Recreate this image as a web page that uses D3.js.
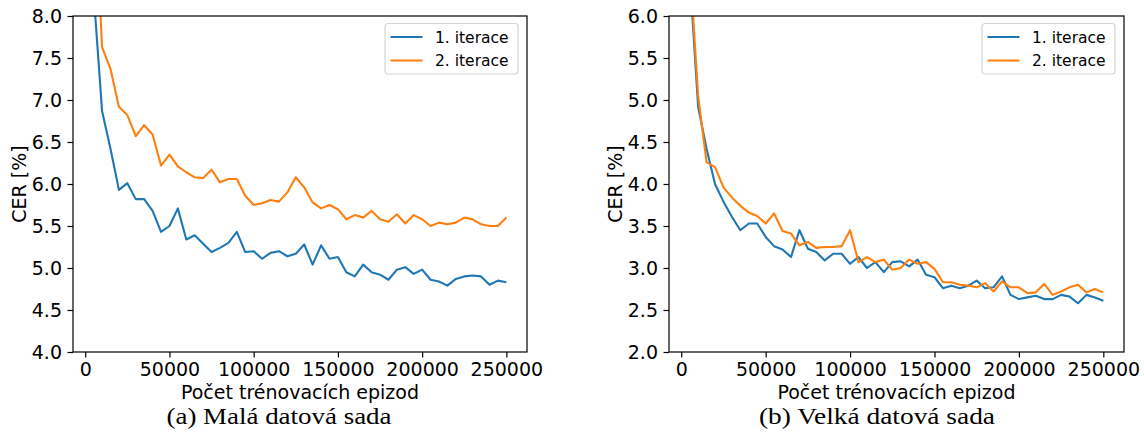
<!DOCTYPE html>
<html>
<head>
<meta charset="utf-8">
<script src="https://cdnjs.cloudflare.com/ajax/libs/d3/7.8.5/d3.min.js"></script>
<style>
  body { margin: 0; background: #fff; }
  svg { display: block; }
  .tick text { font-family: "DejaVu Sans", sans-serif; font-size: 19px; fill: #000; }
  .tick line { stroke: #000; stroke-width: 1.2; }
</style>
</head>
<body>
<svg id="chart" width="1144" height="441"></svg>
<script>
// episodes (x values), shared by both panels
const episodes = [5000, 10000, 15000, 20000, 25000, 30000, 35000, 40000, 45000, 50000,
  55000, 60000, 65000, 70000, 75000, 80000, 85000, 90000, 95000, 100000,
  105000, 110000, 115000, 120000, 125000, 130000, 135000, 140000, 145000, 150000,
  155000, 160000, 165000, 170000, 175000, 180000, 185000, 190000, 195000, 200000,
  205000, 210000, 215000, 220000, 225000, 230000, 235000, 240000, 245000, 250000];

// (a) small dataset
const smallIter1 = [8.27, 6.87, 6.42, 5.93, 6.01, 5.82, 5.82, 5.68, 5.43, 5.50,
  5.71, 5.34, 5.39, 5.29, 5.19, 5.24, 5.30, 5.43, 5.19, 5.20,
  5.11, 5.18, 5.20, 5.14, 5.17, 5.28, 5.04, 5.27, 5.11, 5.13,
  4.95, 4.90, 5.04, 4.95, 4.92, 4.86, 4.98, 5.01, 4.93, 4.98,
  4.86, 4.84, 4.79, 4.87, 4.90, 4.91, 4.90, 4.80, 4.85, 4.83];
const smallIter2 = [9.80, 7.63, 7.37, 6.92, 6.82, 6.57, 6.70, 6.59, 6.22, 6.35,
  6.21, 6.14, 6.08, 6.07, 6.17, 6.02, 6.06, 6.06, 5.86, 5.75,
  5.77, 5.81, 5.79, 5.90, 6.08, 5.96, 5.78, 5.71, 5.75, 5.70,
  5.58, 5.63, 5.60, 5.68, 5.58, 5.55, 5.64, 5.53, 5.63, 5.58,
  5.50, 5.54, 5.52, 5.54, 5.60, 5.58, 5.52, 5.50, 5.50, 5.60];

// (b) big dataset
const bigIter1 = [6.50, 4.92, 4.42, 4.00, 3.79, 3.61, 3.45, 3.53, 3.53, 3.37,
  3.26, 3.22, 3.13, 3.45, 3.23, 3.19, 3.09, 3.17, 3.17, 3.05,
  3.13, 3.00, 3.07, 2.95, 3.07, 3.08, 3.02, 3.10, 2.92, 2.89,
  2.76, 2.79, 2.76, 2.79, 2.85, 2.76, 2.77, 2.90, 2.68, 2.63,
  2.65, 2.67, 2.63, 2.63, 2.68, 2.66, 2.58, 2.68, 2.65, 2.61];
const bigIter2 = [6.65, 5.05, 4.26, 4.20, 3.96, 3.84, 3.74, 3.66, 3.62, 3.53,
  3.65, 3.44, 3.41, 3.27, 3.31, 3.24, 3.25, 3.25, 3.26, 3.45,
  3.07, 3.13, 3.07, 3.10, 2.98, 3.00, 3.10, 3.05, 3.07, 2.99,
  2.83, 2.83, 2.80, 2.79, 2.77, 2.82, 2.72, 2.84, 2.77, 2.77,
  2.70, 2.71, 2.81, 2.68, 2.72, 2.77, 2.80, 2.71, 2.75, 2.71];

const seriesNames = ["1. iterace", "2. iterace"];
const seriesColors = ["#1f77b4", "#ff7f0e"];
const xTicks = [0, 50000, 100000, 150000, 200000, 250000];
const smallYTicks = [4.0, 4.5, 5.0, 5.5, 6.0, 6.5, 7.0, 7.5, 8.0];
const bigYTicks = [2.0, 2.5, 3.0, 3.5, 4.0, 4.5, 5.0, 5.5, 6.0];
const xLabel = "Počet trénovacích epizod";
const yLabel = "CER [%]";

const svg = d3.select("#chart");

function drawPanel(p) {
  const top = 16, bottom = 352;
  const g = svg.append("g");

  // matplotlib-like 5% margin around 5000..250000
  const x = d3.scaleLinear().domain([-7250, 262250]).range([p.left, p.right]);
  const y = d3.scaleLinear().domain(p.yDomain).range([bottom, top]);

  g.append("g")
    .attr("transform", `translate(0,${bottom})`)
    .call(d3.axisBottom(x).tickValues(xTicks).tickFormat(d3.format("d"))
      .tickSize(5.5).tickPadding(5.5).tickSizeOuter(0))
    .call(a => a.select(".domain").remove());
  g.append("g")
    .attr("transform", `translate(${p.left},0)`)
    .call(d3.axisLeft(y).tickValues(p.yTicks).tickFormat(d3.format(".1f"))
      .tickSize(5.5).tickPadding(5.5).tickSizeOuter(0))
    .call(a => a.select(".domain").remove());

  // lines, clipped to the plot area
  const clipId = "clip-" + p.id;
  svg.append("clipPath").attr("id", clipId)
    .append("rect")
    .attr("x", p.left).attr("y", top)
    .attr("width", p.right - p.left).attr("height", bottom - top);

  const line = d3.line()
    .x((d, i) => x(episodes[i]))
    .y(d => y(d));

  p.series.forEach((s, i) => {
    g.append("path")
      .datum(s)
      .attr("clip-path", `url(#${clipId})`)
      .attr("fill", "none")
      .attr("stroke", seriesColors[i])
      .attr("stroke-width", 2.1)
      .attr("stroke-linejoin", "round")
      .attr("d", line);
  });

  // frame
  g.append("rect")
    .attr("x", p.left).attr("y", top)
    .attr("width", p.right - p.left).attr("height", bottom - top)
    .attr("fill", "none").attr("stroke", "#000").attr("stroke-width", 1.2);

  // legend
  const lg = g.append("g").attr("transform", `translate(${p.right - 142},${top + 7.5})`);
  lg.append("rect")
    .attr("width", 133).attr("height", 50.5).attr("rx", 3)
    .attr("fill", "#fff").attr("stroke", "#d6d6d6").attr("stroke-width", 1.2);
  seriesNames.forEach((name, i) => {
    const yy = 13.5 + i * 23.5;
    lg.append("line")
      .attr("x1", 5.5).attr("x2", 37.5).attr("y1", yy).attr("y2", yy)
      .attr("stroke", seriesColors[i]).attr("stroke-width", 2.1);
    lg.append("text")
      .attr("x", 50).attr("y", yy)
      .attr("dy", "0.36em")
      .style("font-family", "DejaVu Sans, sans-serif")
      .style("font-size", "15.5px")
      .text(name);
  });

  // axis labels
  const cx = (p.left + p.right) / 2;
  g.append("text")
    .attr("x", cx).attr("y", 399)
    .attr("text-anchor", "middle")
    .style("font-family", "DejaVu Sans, sans-serif")
    .style("font-size", "19px")
    .text(xLabel);
  g.append("text")
    .attr("transform", `translate(${p.left - 54},${(top + bottom) / 2}) rotate(-90)`)
    .attr("text-anchor", "middle")
    .attr("dy", "0.36em")
    .style("font-family", "DejaVu Sans, sans-serif")
    .style("font-size", "19px")
    .text(yLabel);

  // caption below the subfigure
  g.append("text")
    .attr("x", p.captionX).attr("y", 423.5)
    .attr("text-anchor", "middle")
    .attr("textLength", p.captionWidth)
    .attr("lengthAdjust", "spacingAndGlyphs")
    .style("font-family", "Liberation Serif, serif")
    .style("font-size", "23px")
    .text(p.caption);
}

drawPanel({
  id: "a", left: 73, right: 527, yDomain: [4, 8], yTicks: smallYTicks,
  series: [smallIter1, smallIter2],
  caption: "(a) Malá datová sada", captionX: 279, captionWidth: 225
});
drawPanel({
  id: "b", left: 669, right: 1124, yDomain: [2, 6], yTicks: bigYTicks,
  series: [bigIter1, bigIter2],
  caption: "(b) Velká datová sada", captionX: 877, captionWidth: 236
});
</script>
</body>
</html>
